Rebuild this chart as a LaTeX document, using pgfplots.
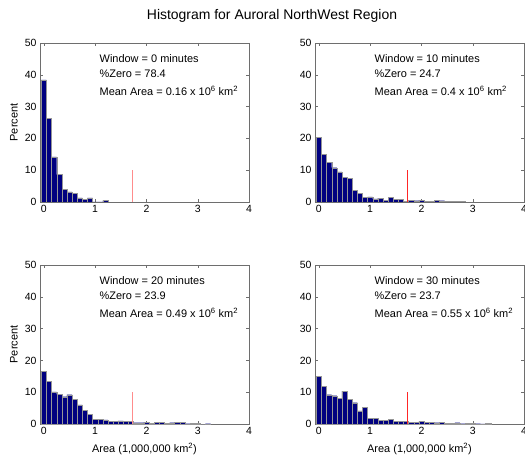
\documentclass[border=0pt]{standalone}
\usepackage{fontspec}
\setmainfont{Liberation Sans}
\usepackage{pgfplots}
\usepackage{pgfplotstable}
\pgfplotsset{compat=1.18}

\definecolor{barblue}{RGB}{0,0,128}
\definecolor{edgegray}{RGB}{150,150,150}
\definecolor{axgray}{RGB}{110,110,110}

% histogram bins (width 0.1, centred on the bin value)
\pgfplotstableread{
x y
0.0 38.4
0.1 26.3
0.2 14.2
0.3 8.6
0.4 3.9
0.5 3.2
0.6 2.8
0.7 1.3
0.8 0.8
0.9 1.3
1.0 0
1.1 0
1.2 0.5
}\winzero

\pgfplotstableread{
x y
0.0 20.4
0.1 15.0
0.2 12.5
0.3 10.8
0.4 9.5
0.5 7.8
0.6 7.5
0.7 3.6
0.8 2.7
0.9 1.5
1.0 1.6
1.1 1.0
1.2 1.2
1.3 0.5
1.4 1.5
1.5 0.9
1.6 0.8
1.7 0.2
1.8 0.6
1.9 0.4
2.0 0.5
2.1 0.2
2.2 0.3
2.3 0.5
2.4 0.4
2.5 0.3
2.6 0.2
2.7 0.3
2.8 0.3
}\winten

\pgfplotstableread{
x y
0.0 16.5
0.1 13.5
0.2 10.1
0.3 9.3
0.4 8.6
0.5 9.2
0.6 7.7
0.7 6.0
0.8 4.4
0.9 3.0
1.0 1.4
1.1 1.5
1.2 1.3
1.3 0.9
1.4 0.8
1.5 1.0
1.6 0.8
1.7 0.8
1.8 0.4
1.9 0.4
2.0 0.5
2.1 0.3
2.2 0.6
2.3 0.5
2.4 0.2
2.5 0.4
2.6 0.6
2.7 0.5
2.8 0.1
2.9 0.3
3.0 0.3
3.1 0.0
3.2 0.1
}\wintwenty

\pgfplotstableread{
x y
0.0 14.9
0.1 11.9
0.2 9.2
0.3 8.9
0.4 8.0
0.5 10.3
0.6 7.7
0.7 6.7
0.8 4.1
0.9 5.2
1.0 1.8
1.1 1.8
1.2 1.2
1.3 1.2
1.4 1.5
1.5 0.9
1.6 0.9
1.7 0.8
1.8 0.5
1.9 0.5
2.0 0.8
2.1 0.5
2.2 0.5
2.3 0.4
2.4 0.6
2.5 0.2
2.6 0.3
2.7 0.4
2.8 0.1
2.9 0.3
3.0 0.3
3.1 0.1
3.2 0.05
3.3 0.3
}\winthirty

\pgfplotsset{
  hpanel/.style={
    scale only axis, width=209bp, height=159bp,
    anchor=north west,
    xmin=-0.075, xmax=4, ymin=0, ymax=50,
    xtick={0,1,2,3,4}, ytick={0,10,...,50},
    tick align=inside,
    major tick length=3bp,
    axis line style={axgray, line width=0.5pt},
    tick style={axgray, line width=0.4pt},
    ticklabel style={font=\fontsize{10.5}{12}\selectfont},
    /pgf/number format/assume math mode=true,
    label style={font=\fontsize{11}{13}\selectfont},
    ylabel style={at={(axis description cs:-0.125,0.5)}, anchor=center},
    xlabel style={at={(axis description cs:0.5,-0.155)}, anchor=center},
  },
  bars/.style={ybar, bar width=0.1, fill=barblue, draw=edgegray, line width=0.3pt},
}

\newcommand{\infotext}[3]{%
  \node[anchor=base west, font=\fontsize{11}{13}\selectfont] at (axis cs:1.02,44) {Window = #1 minutes};
  \node[anchor=base west, font=\fontsize{11}{13}\selectfont] at (axis cs:1.02,39.3) {\%Zero = #2};
  \node[anchor=base west, font=\fontsize{11}{13}\selectfont] at (axis cs:1.02,33.5) {Mean Area = #3 x 10\textsuperscript{6} km\textsuperscript{2}};
}

\begin{document}
\begin{tikzpicture}[x=1bp,y=1bp]
\node[font=\fontsize{14}{16}\selectfont] at (272,-16) {Histogram for Auroral NorthWest Region};

\begin{axis}[hpanel, at={(40bp,-43bp)}, ylabel={Percent}]
\addplot[bars] table {\winzero};
\addplot[red!45, line width=0.8pt] coordinates {(1.73,0) (1.73,10)};
\infotext{0}{78.4}{0.16}
\end{axis}

\begin{axis}[hpanel, at={(315bp,-43bp)}]
\addplot[bars] table {\winten};
\addplot[red!85, line width=0.6pt] coordinates {(1.73,0) (1.73,10)};
\infotext{10}{24.7}{0.4}
\end{axis}

\begin{axis}[hpanel, at={(40bp,-265bp)}, ylabel={Percent}, xlabel={Area (1,000,000 km\textsuperscript{2})}]
\addplot[bars] table {\wintwenty};
\addplot[red!45, line width=0.8pt] coordinates {(1.73,0) (1.73,10)};
\infotext{20}{23.9}{0.49}
\end{axis}

\begin{axis}[hpanel, at={(315bp,-265bp)}, xlabel={Area (1,000,000 km\textsuperscript{2})}]
\addplot[bars] table {\winthirty};
\addplot[red!85, line width=0.6pt] coordinates {(1.73,0) (1.73,10)};
\infotext{30}{23.7}{0.55}
\end{axis}

\pgfresetboundingbox
\path[use as bounding box] (0,0) rectangle (525,-459);
\end{tikzpicture}
\end{document}
